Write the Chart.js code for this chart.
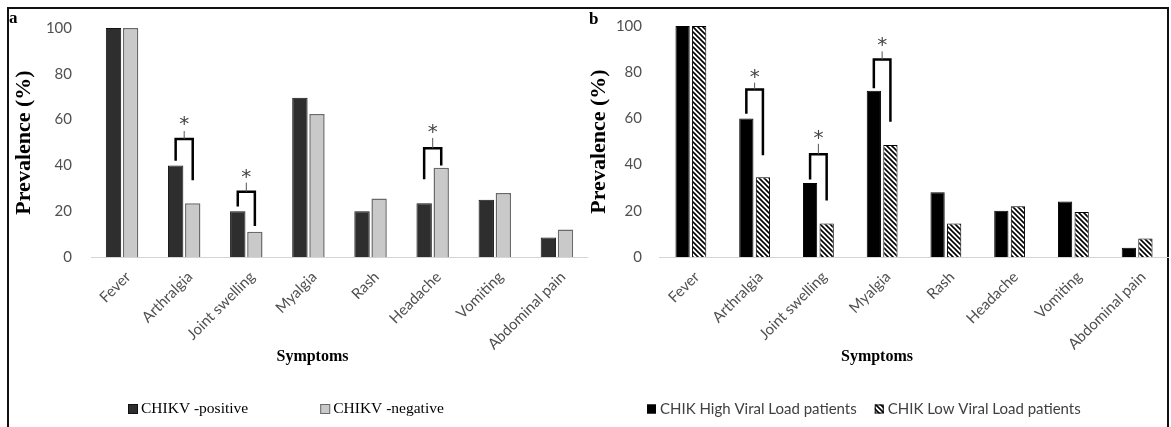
<!DOCTYPE html>
<html>
<head>
<meta charset="utf-8">
<script src="https://cdn.jsdelivr.net/npm/chart.js@4.4.0/dist/chart.umd.min.js"></script>
<style>
  html, body { margin: 0; padding: 0; background: #fff; }
  #wrap { position: relative; width: 1171px; height: 427px; overflow: hidden; background: #fff; }
  #frame { position: absolute; left: 7px; top: 7px; width: 1158px; height: 440px; border: 2px solid #111; }
  .panel { position: absolute; top: 0; height: 427px; }
  #panelA { left: 0; width: 588px; }
  #panelB { left: 586px; width: 583px; }
</style>
</head>
<body>
<div id="wrap">
  <div id="frame"></div>
  <div class="panel" id="panelA"><canvas id="chartA"></canvas></div>
  <div class="panel" id="panelB"><canvas id="chartB"></canvas></div>
</div>
<script>
// カテゴリと値
const symptoms = ['Fever', 'Arthralgia', 'Joint swelling', 'Myalgia', 'Rash', 'Headache', 'Vomiting', 'Abdominal pain'];

// パネルa: CHIKV陽性 / 陰性
const chikvPositive = [100, 40, 20, 69.5, 20, 23.5, 25, 8.5];
const chikvNegative = [100, 23.5, 11, 62.5, 25.5, 39, 28, 12];

// パネルb: ウイルス量 高 / 低
const highViralLoad = [100, 60, 32, 72, 28, 20, 24, 4];
const lowViralLoad = [100, 34.5, 14.5, 48.5, 14.5, 22, 19.5, 8];

// 有意差ブラケット: [カテゴリ, 横線, 左脚の下端, 右脚の下端, 上の線, *]
const sigA = [[1, 51.5, 42, 33.5, 55, 59.5], [2, 28.5, 22, 13.5, 32.5, 36.5], [5, 47.5, 34, 40, 52, 56]];
const sigB = [[1, 72.5, 62, 44, 75.5, 79.5], [2, 44.5, 33.5, 24.5, 49, 53], [3, 85.5, 73, 58.5, 89, 93]];

// 斜線パターン
function makeHatch() {
    const c = document.createElement('canvas');
    c.width = 5; c.height = 5;
    const g = c.getContext('2d');
    g.fillStyle = '#fff';
    g.fillRect(0, 0, 5, 5);
    g.strokeStyle = '#000';
    g.lineWidth = 1.6;
    g.beginPath();
    g.moveTo(-1, -1); g.lineTo(6, 6);
    g.moveTo(-1, 4); g.lineTo(1, 6);
    g.moveTo(4, -1); g.lineTo(6, 1);
    g.stroke();
    return g.createPattern(c, 'repeat');
}

// ブラケット・凡例・ラベルの描画
const decor = {
    id: 'decor',
    afterDatasetsDraw(chart, args, opts) {
        const ctx = chart.ctx;
        const y = chart.scales.y;
        const m0 = chart.getDatasetMeta(0), m1 = chart.getDatasetMeta(1);
        ctx.save();
        opts.brackets.forEach(([i, top, l, r, t, s]) => {
            const xl = m0.data[i].x, xr = m1.data[i].x, xm = (xl + xr) / 2;
            ctx.strokeStyle = '#000';
            ctx.lineWidth = 2.5;
            ctx.beginPath();
            ctx.moveTo(xl, y.getPixelForValue(l));
            ctx.lineTo(xl, y.getPixelForValue(top));
            ctx.lineTo(xr, y.getPixelForValue(top));
            ctx.lineTo(xr, y.getPixelForValue(r));
            ctx.stroke();
            ctx.lineWidth = 1;
            ctx.strokeStyle = '#555';
            ctx.beginPath();
            ctx.moveTo(xm, y.getPixelForValue(top));
            ctx.lineTo(xm, y.getPixelForValue(t));
            ctx.stroke();
            ctx.fillStyle = '#444';
            ctx.font = '20px "DejaVu Sans"';
            ctx.textAlign = 'center';
            ctx.textBaseline = 'middle';
            ctx.fillText('*', xm, y.getPixelForValue(s) + 4);
        });
        ctx.restore();
    },
    afterDraw(chart, args, opts) {
        const ctx = chart.ctx;
        const area = chart.chartArea;
        ctx.save();
        // パネル記号
        ctx.fillStyle = '#000';
        ctx.font = 'bold 17px "Liberation Serif"';
        ctx.textAlign = 'left';
        ctx.textBaseline = 'alphabetic';
        ctx.fillText(opts.letter.text, opts.letter.x, opts.letter.y);
        // x軸タイトル
        ctx.font = 'bold 16px "Liberation Serif"';
        ctx.textAlign = 'center';
        ctx.textBaseline = 'middle';
        ctx.fillText('Symptoms', (area.left + area.right) / 2 + opts.titleShift, opts.titleY);
        // 凡例
        const lg = opts.legend;
        let x = lg.x;
        ctx.font = lg.font;
        ctx.textAlign = 'left';
        chart.data.datasets.forEach(ds => {
            ctx.fillStyle = ds.backgroundColor;
            ctx.fillRect(x, lg.y - lg.box / 2, lg.box, lg.box);
            ctx.strokeStyle = ds.borderColor;
            ctx.lineWidth = 1;
            ctx.strokeRect(x + 0.5, lg.y - lg.box / 2 + 0.5, lg.box - 1, lg.box - 1);
            ctx.fillStyle = lg.color;
            ctx.fillText(ds.label, x + lg.box + lg.textGap, lg.y);
            x += lg.box + lg.textGap + ctx.measureText(ds.label).width + lg.gap;
        });
        ctx.restore();
    }
};

function makeChart(id, datasets, o) {
    const ctx = document.getElementById(id).getContext('2d');
    return new Chart(ctx, {
        type: 'bar',
        data: { labels: symptoms, datasets: datasets },
        options: {
            responsive: true,
            maintainAspectRatio: false,
            animation: false,
            layout: { padding: { top: 18, bottom: 0, left: 0, right: 0 } },
            plugins: {
                legend: { display: false },
                tooltip: { enabled: false },
                decor: o.decor
            },
            scales: {
                x: {
                    grid: { display: false, drawTicks: false },
                    border: { display: true, color: '#d4d4d4', width: 1 },
                    ticks: {
                        autoSkip: false,
                        minRotation: 45,
                        maxRotation: 45,
                        padding: 11,
                        labelOffset: 6,
                        color: '#505050',
                        font: { family: 'Lato', size: 15 }
                    },
                    afterFit: scale => { scale.height = 170; }
                },
                y: {
                    min: 0,
                    max: 100,
                    grid: { display: false, drawTicks: false },
                    border: { display: false },
                    ticks: {
                        stepSize: 20,
                        padding: o.tickPad,
                        color: '#505050',
                        font: { family: 'Lato', size: 15 }
                    },
                    title: {
                        display: true,
                        text: 'Prevalence (%)',
                        color: '#000',
                        font: { family: 'Liberation Serif', size: 22, weight: 'bold' },
                        padding: { top: o.titlePad, bottom: 0 }
                    },
                    afterFit: scale => { scale.width = o.yWidth; }
                }
            }
        },
        plugins: [decor]
    });
}

const hatch = makeHatch();

makeChart('chartA', [
    {
        label: 'CHIKV -positive',
        data: chikvPositive,
        backgroundColor: '#2e2e2e',
        borderColor: '#111',
        borderWidth: 1,
        barPercentage: 0.9,
        categoryPercentage: 0.55
    },
    {
        label: 'CHIKV -negative',
        data: chikvNegative,
        backgroundColor: '#c9c9c9',
        borderColor: '#6a6a6a',
        borderWidth: 1.5,
        barPercentage: 0.9,
        categoryPercentage: 0.55
    }
], {
    yWidth: 91, tickPad: 19, titlePad: 11,
    decor: {
        brackets: sigA,
        letter: { text: 'a', x: 9, y: 23 },
        titleShift: -27,
        titleY: 357,
        legend: { x: 128, y: 409, box: 10, textGap: 3, gap: 72, font: '15.5px "Liberation Serif"', color: '#000' }
    }
});

makeChart('chartB', [
    {
        label: 'CHIK High Viral Load patients',
        data: highViralLoad,
        backgroundColor: '#000',
        borderColor: '#000',
        borderWidth: 1,
        barPercentage: 0.86,
        categoryPercentage: 0.52
    },
    {
        label: 'CHIK Low Viral Load patients',
        data: lowViralLoad,
        backgroundColor: hatch,
        borderColor: '#000',
        borderWidth: 1,
        barPercentage: 0.86,
        categoryPercentage: 0.52
    }
], {
    yWidth: 73, tickPad: 17, titlePad: 0,
    decor: {
        brackets: sigB,
        letter: { text: 'b', x: 3, y: 24 },
        titleShift: -37,
        titleY: 357,
        legend: { x: 61, y: 409, box: 9, textGap: 4, gap: 18, font: '15px Lato', color: '#404040' }
    }
});
</script>
</body>
</html>
